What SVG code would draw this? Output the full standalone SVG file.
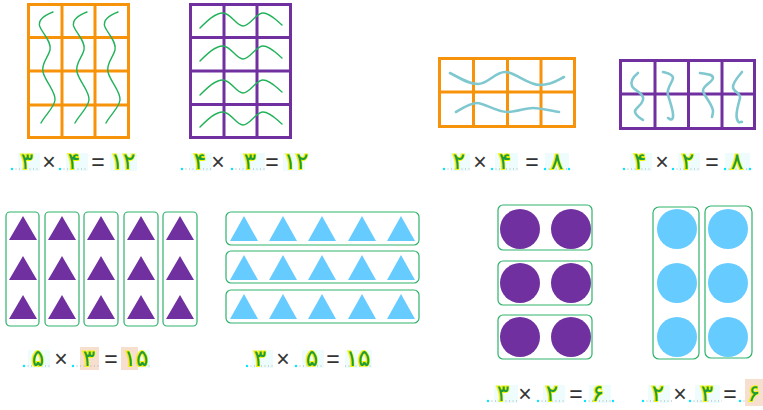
<svg xmlns="http://www.w3.org/2000/svg" width="763" height="410" viewBox="0 0 763 410">
<style>
.og{fill:none;stroke:#f7930a;stroke-width:3}
.pg{fill:none;stroke:#7030a0;stroke-width:3}
.gw{fill:none;stroke:#22b25a;stroke-width:1.4;stroke-linecap:round}
.tw{fill:none;stroke:#80c8d0;stroke-width:2.6;stroke-linecap:round}
.box{fill:#fff;stroke:#2eb36a;stroke-width:1.2}
.ptri{fill:#7030a0}
.ctri{fill:#66ccff}
.pc{fill:#7030a0}
.cc{fill:#66ccff}
.d{font-family:"DejaVu Sans",sans-serif;font-size:23px;fill:#1e9b3c;stroke:#f4f400;stroke-width:2;paint-order:stroke;text-anchor:middle}
.op{font-family:"Liberation Sans",sans-serif;font-size:23px;fill:#333;text-anchor:middle}
.dl{stroke:#a0b0b8;stroke-width:1.2;stroke-dasharray:1 2.5}
.bg{fill:#eefcfd}
.pb{fill:#f6dccb;opacity:0.9}
.cd{fill:#00e8ff}
</style>

<g id="grid1">
<rect class="og" x="28.5" y="4.5" width="100" height="133"/>
<path class="og" d="M62 4.5V137.5M95 4.5V137.5M28.5 37.5H128.5M28.5 71H128.5M28.5 105H128.5"/>
<path class="gw" d="M53 12C45 15 37 20 40 27S52 42 50 50S41 63 43 72S56 92 55 100S45 115 41 123"/>
<path class="gw" d="M87 12C79 15 71 20 74 27S86 42 84 50S75 63 77 72S90 92 89 100S79 115 75 123"/>
<path class="gw" d="M118 12C110 15 102 20 105 27S117 42 115 50S106 63 108 72S121 92 120 100S110 115 106 123"/>
</g>

<g id="grid2">
<rect class="pg" x="190.5" y="4.5" width="100" height="133"/>
<path class="pg" d="M224 4.5V137.5M257 4.5V137.5M190.5 37.5H290.5M190.5 71H290.5M190.5 104.5H290.5"/>
<path class="gw" d="M200 28C207 21 215 13 223 13S236 26 243 26S256 13 263 13S276 20 282 25"/>
<path class="gw" d="M200 61C207 54 215 46 223 46S236 59 243 59S256 46 263 46S276 53 282 58"/>
<path class="gw" d="M200 95C207 88 215 80 223 80S236 93 243 93S256 80 263 80S276 87 282 92"/>
<path class="gw" d="M200 127C207 120 215 112 223 112S236 125 243 125S256 112 263 112S276 119 282 124"/>
</g>

<g id="grid3">
<rect class="og" x="439.5" y="58.5" width="135" height="68"/>
<path class="og" d="M473.5 58.5V126.5M507.5 58.5V126.5M541 58.5V126.5M439.5 92H574.5"/>
<path class="tw" d="M450 73C460 78 468 84 478 84S495 72 505 72S528 85 540 85S558 80 564 77"/>
<path class="tw" d="M456 112C463 108 470 103 477 103S497 112 507 112S525 108 533 108S552 111 559 112"/>
</g>

<g id="grid4">
<rect class="pg" x="620.5" y="60.5" width="134" height="68"/>
<path class="pg" d="M655 60.5V128.5M688.5 60.5V128.5M722 60.5V128.5M620.5 94H754.5"/>
<path class="tw" d="M638 73C633 77 630 81 632 86S645 93 643 100S634 108 635 112S640 118 643 120"/>
<path class="tw" d="M663 72C667 73 673 74 673 78S666 88 668 95S674 112 673 117S669 118 668 118"/>
<path class="tw" d="M700 73C705 74 713 74 713 78S702 86 703 91S714 106 713 112S712 116 712 117"/>
<path class="tw" d="M742 72C738 77 733 82 733 87S741 93 740 98S735 113 737 119S740 121 742 122"/>
</g>

<g id="purpleTriangles">
<rect class="box" x="6" y="212" width="33" height="114" rx="4"/>
<rect class="box" x="45" y="212" width="34" height="114" rx="4"/>
<rect class="box" x="84" y="212" width="34" height="114" rx="4"/>
<rect class="box" x="124" y="212" width="34" height="114" rx="4"/>
<rect class="box" x="163" y="212" width="34" height="114" rx="4"/>
<g class="ptri">
<path d="M23 216L37 240H9Z M23 256L37 280H9Z M23 295L37 319H9Z"/>
<path d="M62 216L76 240H48Z M62 256L76 280H48Z M62 295L76 319H48Z"/>
<path d="M101 216L115 240H87Z M101 256L115 280H87Z M101 295L115 319H87Z"/>
<path d="M141 216L155 240H127Z M141 256L155 280H127Z M141 295L155 319H127Z"/>
<path d="M180 216L194 240H166Z M180 256L194 280H166Z M180 295L194 319H166Z"/>
</g>
</g>

<g id="cyanTriangles">
<rect class="box" x="226" y="212" width="193" height="33" rx="5"/>
<rect class="box" x="226" y="251" width="193" height="32" rx="5"/>
<rect class="box" x="226" y="290" width="193" height="33" rx="5"/>
<g class="ctri">
<path d="M244 216L258 241H230Z M283 216L297 241H269Z M322 216L336 241H308Z M362 216L376 241H348Z M401 216L415 241H387Z"/>
<path d="M244 255L258 280H230Z M283 255L297 280H269Z M322 255L336 280H308Z M362 255L376 280H348Z M401 255L415 280H387Z"/>
<path d="M244 294L258 319H230Z M283 294L297 319H269Z M322 294L336 319H308Z M362 294L376 319H348Z M401 294L415 319H387Z"/>
</g>
</g>

<g id="purpleCircles">
<rect class="box" x="498" y="205" width="94" height="45" rx="5"/>
<rect class="box" x="498" y="261" width="94" height="44" rx="5"/>
<rect class="box" x="498" y="315" width="94" height="44" rx="5"/>
<circle class="pc" cx="520" cy="229" r="20"/><circle class="pc" cx="571" cy="229" r="20"/>
<circle class="pc" cx="520" cy="283" r="20"/><circle class="pc" cx="571" cy="283" r="20"/>
<circle class="pc" cx="520" cy="337" r="20"/><circle class="pc" cx="571" cy="337" r="20"/>
</g>

<g id="cyanCircles">
<rect class="box" x="653" y="207" width="46" height="152" rx="6"/>
<rect class="box" x="705" y="206" width="47" height="152" rx="6"/>
<circle class="cc" cx="677" cy="229" r="20"/><circle class="cc" cx="728" cy="229" r="20"/>
<circle class="cc" cx="677" cy="283" r="20"/><circle class="cc" cx="728" cy="283" r="20"/>
<circle class="cc" cx="677" cy="337" r="20"/><circle class="cc" cx="728" cy="337" r="20"/>
</g>

<g id="eq1">
<rect class="bg" x="18" y="153" width="22" height="18"/><rect class="bg" x="66" y="153" width="22" height="18"/><rect class="bg" x="110" y="153" width="27" height="18"/>
<line class="dl" x1="12" y1="169" x2="40" y2="169"/><line class="dl" x1="60" y1="169" x2="88" y2="169"/>
<circle class="cd" cx="12" cy="169" r="1.2"/><circle class="cd" cx="60" cy="169" r="1.2"/>
<text class="d" x="27" y="169">۳</text><text class="op" x="49" y="170">×</text><text class="d" x="74" y="169">۴</text><text class="op" x="98" y="170">=</text><text class="d" x="123" y="169">۱۲</text>
</g>

<g id="eq2">
<rect class="bg" x="190" y="153" width="22" height="18"/><rect class="bg" x="240" y="153" width="25" height="18"/><rect class="bg" x="283" y="153" width="22" height="18"/>
<line class="dl" x1="182" y1="169" x2="212" y2="169"/><line class="dl" x1="232" y1="169" x2="265" y2="169"/>
<circle class="cd" cx="182" cy="169" r="1.2"/><circle class="cd" cx="232" cy="169" r="1.2"/>
<text class="d" x="200" y="169">۴</text><text class="op" x="218" y="170">×</text><text class="d" x="250" y="169">۳</text><text class="op" x="272" y="170">=</text><text class="d" x="296" y="169">۱۲</text>
</g>

<g id="eq3">
<rect class="bg" x="450" y="153" width="20" height="18"/><rect class="bg" x="495" y="153" width="23" height="18"/><rect class="bg" x="545" y="153" width="24" height="18"/>
<line class="dl" x1="444" y1="169" x2="470" y2="169"/><line class="dl" x1="492" y1="169" x2="518" y2="169"/><line class="dl" x1="545" y1="169" x2="569" y2="169"/>
<circle class="cd" cx="444" cy="169" r="1.2"/><circle class="cd" cx="492" cy="169" r="1.2"/><circle class="cd" cx="545" cy="169" r="1.2"/><circle class="cd" cx="569" cy="169" r="1.2"/>
<text class="d" x="459" y="169">۲</text><text class="op" x="480" y="170">×</text><text class="d" x="505" y="169">۴</text><text class="op" x="532" y="170">=</text><text class="d" x="557" y="169">۸</text>
</g>

<g id="eq4">
<rect class="bg" x="630" y="153" width="22" height="18"/><rect class="bg" x="678" y="153" width="22" height="18"/><rect class="bg" x="725" y="153" width="25" height="18"/>
<line class="dl" x1="624" y1="169" x2="652" y2="169"/><line class="dl" x1="673" y1="169" x2="700" y2="169"/><line class="dl" x1="725" y1="169" x2="750" y2="169"/>
<circle class="cd" cx="624" cy="169" r="1.2"/><circle class="cd" cx="673" cy="169" r="1.2"/><circle class="cd" cx="725" cy="169" r="1.2"/><circle class="cd" cx="750" cy="169" r="1.2"/>
<text class="d" x="640" y="169">۴</text><text class="op" x="662" y="170">×</text><text class="d" x="688" y="169">۲</text><text class="op" x="712" y="170">=</text><text class="d" x="737" y="169">۸</text>
</g>

<g id="eq5">
<rect class="bg" x="28" y="350" width="22" height="18"/><rect class="pb" x="80" y="347" width="19" height="23"/><rect class="pb" x="121" y="347" width="17" height="23"/><rect class="bg" x="138" y="350" width="12" height="18"/>
<line class="dl" x1="24" y1="366" x2="50" y2="366"/><line class="dl" x1="73" y1="366" x2="99" y2="366"/><line class="dl" x1="138" y1="366" x2="150" y2="366"/>
<circle class="cd" cx="24" cy="366" r="1.2"/><circle class="cd" cx="73" cy="366" r="1.2"/>
<text class="d" x="38" y="366">۵</text><text class="op" x="61" y="367">×</text><text class="d" x="89" y="366">۳</text><text class="op" x="111" y="367">=</text><text class="d" x="136" y="366">۱۵</text>
</g>

<g id="eq6">
<rect class="bg" x="252" y="350" width="21" height="18"/><rect class="bg" x="302" y="350" width="22" height="18"/><rect class="bg" x="345" y="350" width="27" height="18"/>
<line class="dl" x1="247" y1="366" x2="273" y2="366"/><line class="dl" x1="296" y1="366" x2="324" y2="366"/><line class="dl" x1="345" y1="366" x2="372" y2="366"/>
<circle class="cd" cx="247" cy="366" r="1.2"/><circle class="cd" cx="296" cy="366" r="1.2"/>
<text class="d" x="260" y="366">۳</text><text class="op" x="283" y="367">×</text><text class="d" x="312" y="366">۵</text><text class="op" x="333" y="367">=</text><text class="d" x="358" y="366">۱۵</text>
</g>

<g id="eq7">
<rect class="bg" x="494" y="385" width="24" height="18"/><rect class="bg" x="543" y="385" width="22" height="18"/><rect class="bg" x="589" y="385" width="22" height="18"/>
<line class="dl" x1="488" y1="401" x2="518" y2="401"/><line class="dl" x1="538" y1="401" x2="565" y2="401"/><line class="dl" x1="585" y1="401" x2="613" y2="401"/>
<circle class="cd" cx="488" cy="401" r="1.2"/><circle class="cd" cx="538" cy="401" r="1.2"/><circle class="cd" cx="585" cy="401" r="1.2"/><circle class="cd" cx="613" cy="401" r="1.2"/>
<text class="d" x="503" y="401">۳</text><text class="op" x="525" y="402">×</text><text class="d" x="552" y="401">۲</text><text class="op" x="576" y="402">=</text><text class="d" x="598" y="401">۶</text>
</g>

<g id="eq8">
<rect class="bg" x="648" y="385" width="22" height="18"/><rect class="bg" x="695" y="385" width="25" height="18"/><rect class="pb" x="745" y="379" width="18" height="27"/>
<line class="dl" x1="643" y1="401" x2="672" y2="401"/><line class="dl" x1="690" y1="401" x2="722" y2="401"/><line class="dl" x1="740" y1="401" x2="745" y2="401"/>
<circle class="cd" cx="643" cy="401" r="1.2"/><circle class="cd" cx="690" cy="401" r="1.2"/><circle class="cd" cx="740" cy="401" r="1.2"/>
<text class="d" x="658" y="401">۲</text><text class="op" x="680" y="402">×</text><text class="d" x="707" y="401">۳</text><text class="op" x="730" y="402">=</text><text class="d" x="754" y="401">۶</text>
</g>
</svg>
